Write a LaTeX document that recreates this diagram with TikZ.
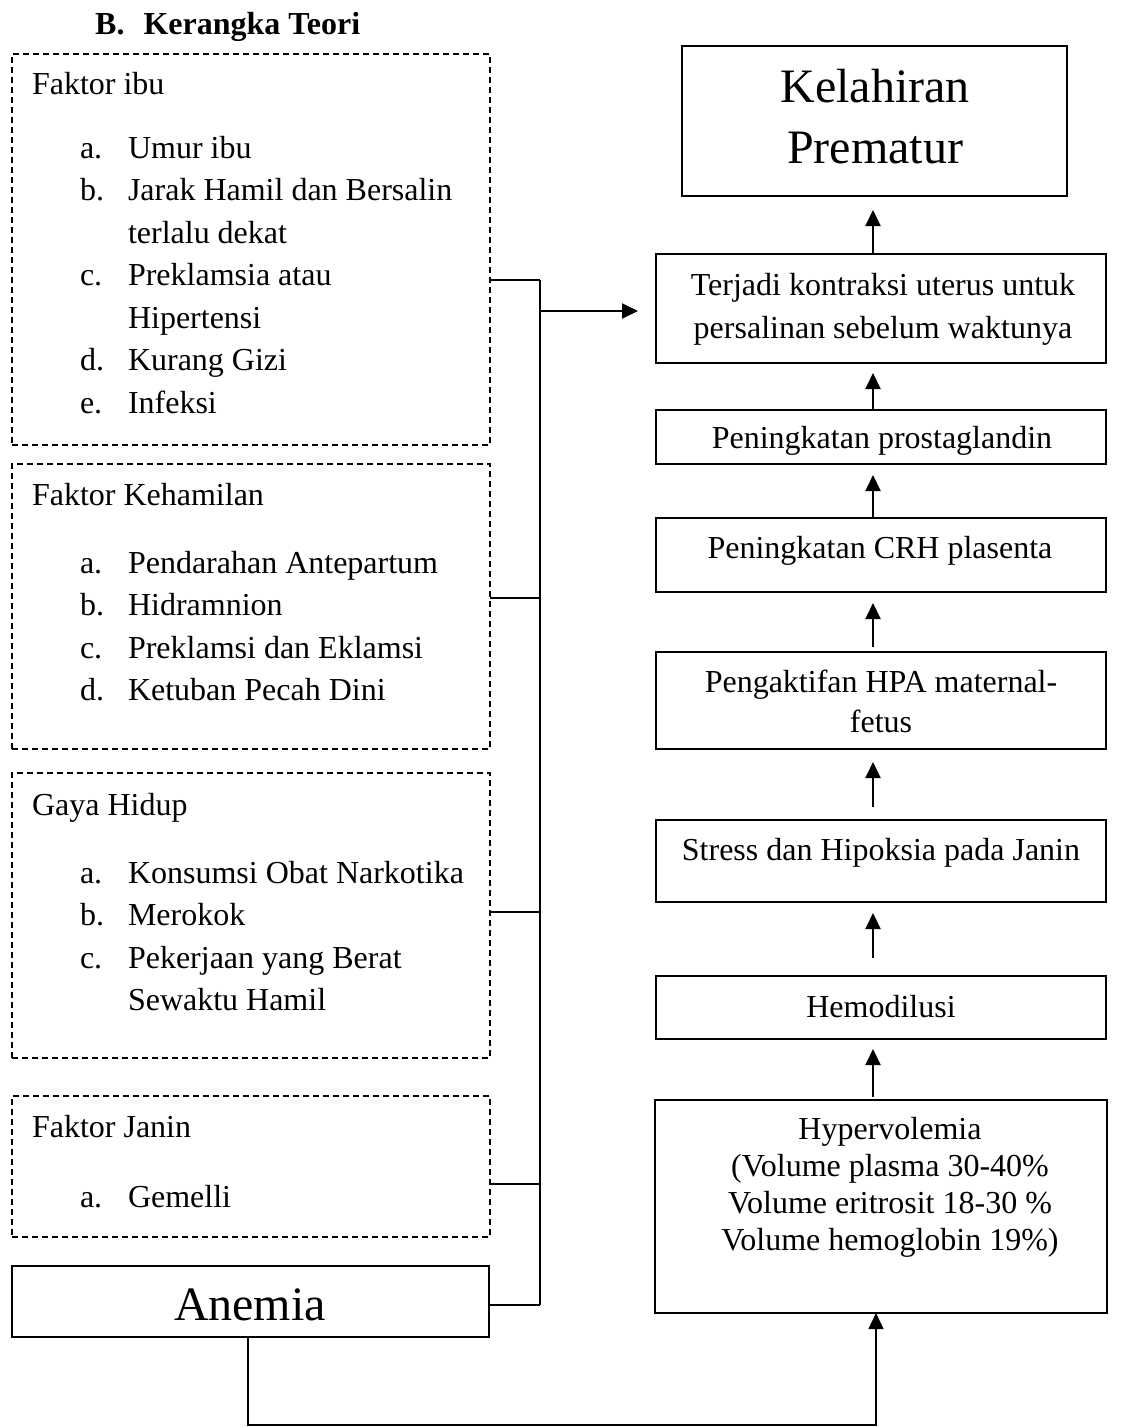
\documentclass[tikz,border=0pt]{standalone}
\usepackage{fontspec}
\setmainfont{Liberation Serif}
\usetikzlibrary{arrows.meta}
\begin{document}
\begin{tikzpicture}[x=1pt,y=-1pt,
  txt/.style={inner sep=0pt, outer sep=0pt, font=\fontsize{32}{42.5}\selectfont},
  big/.style={inner sep=0pt, outer sep=0pt, align=center, font=\fontsize{48}{61}\selectfont},
  dbox/.style={draw, dash pattern=on 6pt off 4pt, line width=1.5pt, inner sep=0pt, outer sep=0pt, anchor=north west},
  sbox/.style={draw, line width=2pt, inner sep=0pt, outer sep=0pt, anchor=north west},
  conn/.style={line width=2pt},
  arr/.style={line width=2pt, -{Triangle[length=16pt,width=15pt]}},
]
\useasboundingbox (0,0) rectangle (1128,1427);

% title
\node[anchor=base west, inner sep=0pt, font=\bfseries\fontsize{32}{38}\selectfont] (title) at (95,34) {B.\hspace{19pt}Kerangka Teori};

% left dashed boxes
\node[dbox, minimum width=478pt, minimum height=391pt] (f1) at (12,54) {};
\node[dbox, minimum width=478pt, minimum height=285pt] (f2) at (12,464) {};
\node[dbox, minimum width=478pt, minimum height=285pt] (f3) at (12,773) {};
\node[dbox, minimum width=478pt, minimum height=141pt] (f4) at (12,1096) {};
\node[sbox, minimum width=477pt, minimum height=71pt] (an) at (12,1266) {};

\node[txt, anchor=base west] (h1) at (32,94) {Faktor ibu};
\node[txt, anchor=base west] (l1) at (80,158) {\begin{tabular}[t]{@{}p{48pt}@{}l@{}}
a. & Umur ibu\\
b. & Jarak Hamil dan Bersalin\\
   & terlalu dekat\\
c. & Preklamsia atau\\
   & Hipertensi\\
d. & Kurang Gizi\\
e. & Infeksi
\end{tabular}};

\node[txt, anchor=base west] (h2) at (32,505) {Faktor Kehamilan};
\node[txt, anchor=base west] (l2) at (80,573) {\begin{tabular}[t]{@{}p{48pt}@{}l@{}}
a. & Pendarahan Antepartum\\
b. & Hidramnion\\
c. & Preklamsi dan Eklamsi\\
d. & Ketuban Pecah Dini
\end{tabular}};

\node[txt, anchor=base west] (h3) at (32,815) {Gaya Hidup};
\node[txt, anchor=base west] (l3) at (80,883) {\begin{tabular}[t]{@{}p{48pt}@{}l@{}}
a. & Konsumsi Obat Narkotika\\
b. & Merokok\\
c. & Pekerjaan yang Berat\\
   & Sewaktu Hamil
\end{tabular}};

\node[txt, anchor=base west] (h4) at (32,1137) {Faktor Janin};
\node[txt, anchor=base west] (l4) at (80,1207) {\begin{tabular}[t]{@{}p{48pt}@{}l@{}}
a. & Gemelli
\end{tabular}};

\node[big, anchor=base] (tan) at (250,1320) {Anemia};

% right boxes
\node[sbox, minimum width=385pt, minimum height=150pt] (K) at (682,46) {};
\node[sbox, minimum width=450pt, minimum height=109pt] (T) at (656,254) {};
\node[sbox, minimum width=450pt, minimum height=54pt] (P) at (656,410) {};
\node[sbox, minimum width=450pt, minimum height=74pt] (C) at (656,518) {};
\node[sbox, minimum width=450pt, minimum height=97pt] (H) at (656,652) {};
\node[sbox, minimum width=450pt, minimum height=82pt] (S) at (656,820) {};
\node[sbox, minimum width=450pt, minimum height=63pt] (D) at (656,976) {};
\node[sbox, minimum width=452pt, minimum height=213pt] (V) at (655,1100) {};

% multi-line nodes: base anchor is the baseline of the last line
\node[big, anchor=base] (tK) at (875,163) {Kelahiran\\Prematur};
\node[txt, align=center, anchor=base, font=\fontsize{32}{43}\selectfont] (tT) at (883,338) {Terjadi kontraksi uterus untuk\\persalinan sebelum waktunya};
\node[txt, anchor=base] (tP) at (882,448) {Peningkatan prostaglandin};
\node[txt, anchor=base] (tC) at (880,558) {Peningkatan CRH plasenta};
\node[txt, align=center, anchor=base, font=\fontsize{32}{40}\selectfont] (tH) at (881,732) {Pengaktifan HPA maternal-\\fetus};
\node[txt, anchor=base] (tS) at (881,860) {Stress dan Hipoksia pada Janin};
\node[txt, anchor=base] (tD) at (881,1017) {Hemodilusi};
\node[txt, align=center, anchor=base, font=\fontsize{32}{37}\selectfont] (tV) at (890,1250) {Hypervolemia\\(Volume plasma 30-40\%\\Volume eritrosit 18-30 \%\\Volume hemoglobin 19\%)};

% vertical arrows on the right
\coordinate (ax) at (873,0);
\draw[arr, shorten >=14pt] (T.north -| ax) -- (K.south -| ax);
\draw[arr, shorten >=10pt] (P.north -| ax) -- (T.south -| ax);
\draw[arr, shorten >=11pt] (C.north -| ax) -- (P.south -| ax);
\draw[arr, shorten <=5pt, shorten >=11pt] (H.north -| ax) -- (C.south -| ax);
\draw[arr, shorten <=13pt, shorten >=13pt] (S.north -| ax) -- (H.south -| ax);
\draw[arr, shorten <=18pt, shorten >=11pt] (D.north -| ax) -- (S.south -| ax);
\draw[arr, shorten <=3pt, shorten >=10pt] (V.north -| ax) -- (D.south -| ax);

% bus on the left
\coordinate (j1) at (540,280);
\coordinate (j2) at (540,598);
\coordinate (j3) at (540,912);
\coordinate (j4) at (540,1184);
\coordinate (j5) at (540,1305);
\coordinate (ja) at (540,311);
\draw[conn] (f1.east |- j1) -- (j1);
\draw[conn] (f2.east |- j2) -- (j2);
\draw[conn] (f3.east |- j3) -- (j3);
\draw[conn] (f4.east |- j4) -- (j4);
\draw[conn] (an.east |- j5) -- (j5);
\draw[conn] (j1) -- (j5);
\draw[arr, shorten >=18pt] (ja) -- (T.west |- ja);

% anemia to hypervolemia
\coordinate (b1) at (248,1425);
\coordinate (b2) at (876,1425);
\draw[arr, line width=1.5pt] (an.south -| b1) -- (b1) -- (b2) -- (V.south -| b2);
\end{tikzpicture}
\end{document}
